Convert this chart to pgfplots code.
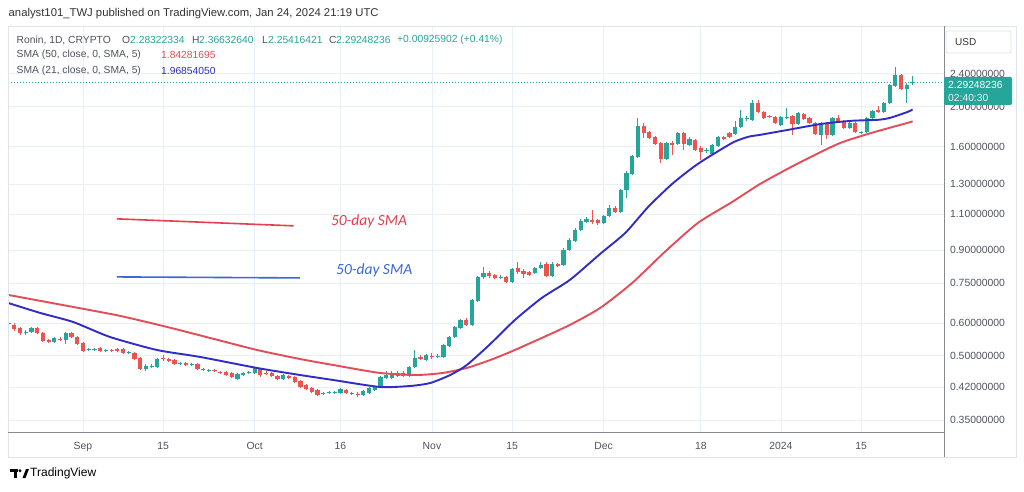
\documentclass[border=0pt]{standalone}
\usepackage{pgfplots}
\pgfplotsset{compat=1.18}
\usepackage{pgfplotstable}
\usepackage{fontspec}
\setmainfont{Liberation Sans}
\newfontfamily\annfont{Carlito}

\definecolor{cgreen}{RGB}{38,166,154}
\definecolor{cred}{RGB}{239,83,80}
\definecolor{smaA}{RGB}{226,77,87}
\definecolor{smaB}{RGB}{48,44,196}
\definecolor{gridc}{RGB}{234,238,245}
\definecolor{txt}{RGB}{80,83,94}
\definecolor{dtxt}{RGB}{51,51,51}
\definecolor{anred}{RGB}{226,64,78}
\definecolor{anblue}{RGB}{58,104,214}
\definecolor{framec}{RGB}{224,227,235}
\definecolor{axc}{RGB}{135,138,145}

\pgfplotstableread{
d o h l c
-13 0.6004 0.6072 0.5905 0.5971
-12 0.5938 0.6004 0.5744 0.5807
-11 0.5840 0.5872 0.5617 0.5680
-10 0.5680 0.5775 0.5617 0.5712
-9 0.5712 0.5872 0.5680 0.5840
-8 0.5840 0.5872 0.5649 0.5680
-7 0.5680 0.5712 0.5402 0.5433
-6 0.5463 0.5493 0.5372 0.5402
-5 0.5402 0.5555 0.5372 0.5524
-4 0.5493 0.5555 0.5433 0.5463
-3 0.5463 0.5712 0.5343 0.5680
-2 0.5680 0.5712 0.5524 0.5555
-1 0.5555 0.5586 0.5313 0.5343
0 0.5372 0.5402 0.5110 0.5138
1 0.5167 0.5225 0.5138 0.5196
2 0.5175 0.5225 0.5138 0.5190
3 0.5225 0.5254 0.5110 0.5138
4 0.5138 0.5196 0.5110 0.5167
5 0.5167 0.5196 0.5110 0.5138
6 0.5196 0.5225 0.5110 0.5138
7 0.5196 0.5225 0.5053 0.5081
8 0.5081 0.5138 0.5053 0.5110
9 0.5081 0.5110 0.4887 0.4914
10 0.4942 0.4969 0.4623 0.4649
11 0.4649 0.4780 0.4598 0.4727
12 0.4701 0.4780 0.4675 0.4727
13 0.4701 0.4942 0.4675 0.4914
14 0.4942 0.5025 0.4860 0.4914
15 0.4914 0.4942 0.4833 0.4860
16 0.4887 0.4914 0.4753 0.4780
17 0.4780 0.4833 0.4753 0.4807
18 0.4807 0.4833 0.4727 0.4753
19 0.4753 0.4807 0.4727 0.4780
20 0.4780 0.4807 0.4623 0.4649
21 0.4623 0.4675 0.4598 0.4649
22 0.4598 0.4649 0.4572 0.4623
23 0.4623 0.4649 0.4572 0.4598
24 0.4572 0.4598 0.4522 0.4547
25 0.4572 0.4598 0.4471 0.4496
26 0.4547 0.4572 0.4422 0.4447
27 0.4397 0.4547 0.4373 0.4522
28 0.4496 0.4572 0.4471 0.4547
29 0.4547 0.4598 0.4522 0.4572
30 0.4547 0.4701 0.4522 0.4675
31 0.4649 0.4675 0.4447 0.4496
32 0.4547 0.4598 0.4496 0.4522
33 0.4547 0.4572 0.4447 0.4471
34 0.4471 0.4496 0.4373 0.4397
35 0.4397 0.4522 0.4373 0.4496
36 0.4471 0.4496 0.4397 0.4422
37 0.4447 0.4471 0.4300 0.4325
38 0.4349 0.4373 0.4182 0.4206
39 0.4253 0.4277 0.4136 0.4159
40 0.4182 0.4206 0.4067 0.4090
41 0.4136 0.4159 0.4000 0.4022
42 0.4045 0.4090 0.4022 0.4067
43 0.4067 0.4113 0.4045 0.4090
44 0.4067 0.4113 0.4045 0.4090
45 0.4067 0.4182 0.4045 0.4159
46 0.4136 0.4159 0.4045 0.4067
47 0.4067 0.4090 0.4022 0.4045
48 0.4045 0.4090 0.3978 0.4022
49 0.4022 0.4136 0.4000 0.4113
50 0.4067 0.4206 0.4045 0.4182
51 0.4136 0.4229 0.4113 0.4206
52 0.4206 0.4471 0.4182 0.4447
53 0.4422 0.4598 0.4397 0.4496
54 0.4422 0.4598 0.4397 0.4522
55 0.4471 0.4598 0.4447 0.4547
56 0.4547 0.4598 0.4447 0.4471
57 0.4471 0.4727 0.4447 0.4701
58 0.4701 0.5167 0.4675 0.4942
59 0.4969 0.5025 0.4887 0.4914
60 0.4887 0.5053 0.4860 0.5025
61 0.4997 0.5081 0.4914 0.4969
62 0.4969 0.5053 0.4942 0.4997
63 0.4969 0.5343 0.4942 0.5313
64 0.5283 0.5586 0.5254 0.5555
65 0.5555 0.5905 0.5524 0.5872
66 0.5840 0.6140 0.5807 0.6106
67 0.6106 0.6174 0.5905 0.5938
68 0.5938 0.6863 0.5905 0.6825
69 0.6787 0.7800 0.6749 0.7756
70 0.7756 0.8200 0.7671 0.7931
71 0.7931 0.8020 0.7713 0.7800
72 0.7843 0.7887 0.7671 0.7713
73 0.7713 0.7843 0.7671 0.7756
74 0.7756 0.7800 0.7501 0.7543
75 0.7543 0.8154 0.7501 0.8109
76 0.8154 0.8431 0.7887 0.7975
77 0.8020 0.8109 0.7713 0.7887
78 0.7975 0.8020 0.7800 0.7843
79 0.7931 0.8200 0.7887 0.8154
80 0.8154 0.8431 0.8109 0.8291
81 0.8338 0.8431 0.7756 0.7800
82 0.7800 0.8431 0.7756 0.8338
83 0.8338 0.8384 0.8200 0.8246
84 0.8291 0.9115 0.8246 0.9014
85 0.9014 0.9637 0.8964 0.9530
86 0.9477 1.0188 0.9424 1.0075
87 1.0075 1.0711 1.0019 1.0592
88 1.0534 1.0831 1.0475 1.0711
89 1.0652 1.1261 1.0417 1.0534
90 1.0652 1.0711 1.0359 1.0475
91 1.0475 1.0952 1.0417 1.0891
92 1.0891 1.1579 1.0831 1.1387
93 1.1387 1.1514 1.1075 1.1137
94 1.1137 1.2657 1.1075 1.2587
95 1.2587 1.3991 1.2038 1.3836
96 1.3759 1.5293 1.3683 1.5208
97 1.5123 1.8789 1.5039 1.7971
98 1.7971 1.8273 1.6810 1.7285
99 1.7381 1.7478 1.6717 1.6810
100 1.6904 1.6998 1.6168 1.6258
101 1.6349 1.6440 1.4627 1.4956
102 1.4956 1.6440 1.4873 1.6349
103 1.6349 1.6532 1.5293 1.6168
104 1.6258 1.7381 1.6168 1.7285
105 1.7285 1.7381 1.5724 1.6258
106 1.6168 1.6904 1.6078 1.6717
107 1.6624 1.6717 1.5637 1.5724
108 1.5900 1.6078 1.4873 1.5550
109 1.5637 1.5900 1.5464 1.5724
110 1.5378 1.6258 1.5293 1.6168
111 1.6078 1.6998 1.5989 1.6904
112 1.6904 1.6998 1.6624 1.6717
113 1.7285 1.7381 1.6810 1.6904
114 1.7189 1.8478 1.7093 1.7871
115 1.7871 1.9644 1.7772 1.8789
116 1.8685 1.8999 1.8478 1.8789
117 1.8581 2.0768 1.8478 2.0424
118 2.0424 2.0768 1.9319 1.9427
119 1.9427 1.9535 1.8685 1.8789
120 1.8999 1.9105 1.8789 1.8894
121 1.8894 1.8999 1.8172 1.8273
122 1.8071 1.8999 1.7971 1.8894
123 1.8789 1.9864 1.8685 1.8894
124 1.8999 1.9105 1.7093 1.8172
125 1.8172 1.9427 1.8071 1.9319
126 1.9212 1.9319 1.8581 1.8685
127 1.8789 1.8894 1.8172 1.8273
128 1.8273 1.8375 1.7093 1.7189
129 1.7093 1.8375 1.6168 1.8273
130 1.8172 1.8273 1.6717 1.7093
131 1.7093 1.8894 1.6998 1.8789
132 1.8789 1.9105 1.8375 1.8478
133 1.8478 1.8581 1.7673 1.7772
134 1.7772 1.8375 1.7673 1.8273
135 1.8273 1.8375 1.7285 1.7381
136 1.7285 1.7478 1.7189 1.7381
137 1.7381 1.8894 1.7285 1.8789
138 1.8789 1.9644 1.8685 1.9535
139 1.9644 2.0086 1.9319 1.9427
140 1.9427 2.0538 1.9319 2.0424
141 2.0424 2.2702 2.0311 2.2576
142 2.2450 2.4954 2.2326 2.3868
143 2.3868 2.4001 2.1956 2.2079
144 2.2079 2.2828 2.0424 2.2576
145 2.2832 2.3663 2.2542 2.2925
}\candles

\pgfplotstableread{
d v
-13.1 0.7018
-1.75 0.6564
6.5 0.6244
14.7 0.5872
22.2 0.5524
30.4 0.5167
37.9 0.4914
43.7 0.4753
51.9 0.4547
58.4 0.4496
62.9 0.4547
67.1 0.4675
71.2 0.4887
74.7 0.5110
80.2 0.5524
85.1 0.5938
90.4 0.6527
96.0 0.7501
101.7 0.8914
107.5 1.0475
113.5 1.1773
118.4 1.3014
124.5 1.4465
132.0 1.6258
137.9 1.7285
144.2 1.8273
145 1.8428
}\smaA

\pgfplotstableread{
d v
-13.1 0.6712
-7.5 0.6349
-1.75 0.6038
4.7 0.5555
12.9 0.5167
20.5 0.4969
30.4 0.4675
37.9 0.4496
43.7 0.4373
51.9 0.4206
57.2 0.4229
60.7 0.4300
64.2 0.4496
67.1 0.4753
71.2 0.5343
75.5 0.6106
80.2 0.6901
85.1 0.7628
90.4 0.8815
94.8 0.9909
98.8 1.1451
103.0 1.3014
107.5 1.4546
113.5 1.6349
116.3 1.6904
118.4 1.7093
123.3 1.7575
129.2 1.8172
134.4 1.8478
139.0 1.8581
141.1 1.8789
144.2 1.9427
145 1.9685
}\smaB

\begin{document}
\begin{tikzpicture}
\useasboundingbox (0,0) rectangle (1024pt,491pt);
\fill[white] (0,0) rectangle (1024pt,491pt);
\begin{axis}[
  at={(8pt,59pt)}, anchor=south west,
  scale only axis, width=936pt, height=406pt,
  xmin=-13.11, xmax=150.5,
  ymode=log, ymin=0.3274, ymax=3.13,
  axis line style={draw=none},
  xtick={0,14,30,45,61,75,91,108,122,136},
  xticklabels={Sep,15,Oct,16,Nov,15,Dec,18,2024,15},
  ytick={0.35,0.42,0.5,0.6,0.75,0.9,1.1,1.3,1.6,2.0,2.4},
  yticklabels={0.35000000,0.42000000,0.50000000,0.60000000,0.75000000,0.90000000,1.10000000,1.30000000,1.60000000,2.00000000,2.40000000},
  yticklabel pos=right,
  grid=major, major grid style={draw=gridc, line width=0.9pt},
  major tick length=0pt, tick style={draw=none},
  xticklabel style={font=\fontsize{10.4}{12}\selectfont, text=txt, yshift=-7pt},
  yticklabel style={font=\fontsize{10.4}{12}\selectfont, text=txt, anchor=west, xshift=2.5pt},
]
% price line
\addplot[cgreen, line width=0.9pt, dash pattern=on 1pt off 2pt, forget plot] coordinates {(-13.11,2.2925) (150.5,2.2925)};
% wicks
\addplot[draw=none, mark=none, forget plot, error bars/.cd, y dir=plus, y explicit, error mark=none,
  error bar style={draw=cgreen, line width=1pt}]
  table[x=d, y expr={\thisrow{c}<\thisrow{o} ? nan : \thisrow{l}}, y error plus expr={\thisrow{h}-\thisrow{l}}] {\candles};
\addplot[draw=none, mark=none, forget plot, error bars/.cd, y dir=plus, y explicit, error mark=none,
  error bar style={draw=cred, line width=1pt}]
  table[x=d, y expr={\thisrow{c}<\thisrow{o} ? \thisrow{l} : nan}, y error plus expr={\thisrow{h}-\thisrow{l}}] {\candles};
% bodies
\addplot[draw=none, mark=none, forget plot, error bars/.cd, y dir=plus, y explicit, error mark=none,
  error bar style={draw=cgreen, line width=4.2pt}]
  table[x=d, y expr={\thisrow{c}<\thisrow{o} ? nan : \thisrow{o}}, y error plus expr={\thisrow{c}-\thisrow{o}}] {\candles};
\addplot[draw=none, mark=none, forget plot, error bars/.cd, y dir=plus, y explicit, error mark=none,
  error bar style={draw=cred, line width=4.2pt}]
  table[x=d, y expr={\thisrow{c}<\thisrow{o} ? \thisrow{c} : nan}, y error plus expr={\thisrow{o}-\thisrow{c}}] {\candles};
% SMAs
\addplot[smaA, line width=1.9pt, smooth, tension=0.4, mark=none] table[x=d, y=v] {\smaA};
\addplot[smaB, line width=1.9pt, smooth, tension=0.4, mark=none] table[x=d, y=v] {\smaB};
% annotations
\addplot[anred, line width=1.6pt, mark=none] coordinates {(5.93,1.0711) (36.8,1.0303)};
\addplot[anblue, line width=1.6pt, mark=none] coordinates {(5.93,0.7756) (37.9,0.7713)};
\node[text=anred, font=\annfont\itshape\fontsize{15.5}{18}\selectfont] at (axis cs:50.0,1.0534) {50-day SMA};
\node[text=anblue, font=\annfont\itshape\fontsize{15.5}{18}\selectfont] at (axis cs:50.9,0.8064) {50-day SMA};
\end{axis}
\begin{scope}[x=1pt,y=1pt]
% frame and axis lines
\draw[framec, line width=0.8pt] (8,34) rectangle (1016,465);
\draw[axc, line width=1pt] (8,59) -- (944,59);
\draw[axc, line width=1pt] (944,34) -- (944,465);
% header
\node[anchor=west, inner sep=0, text=dtxt, font=\fontsize{11.3}{13}\selectfont] at (8.5,477) {analyst101\_TWJ published on TradingView.com, Jan 24, 2024 21:19 UTC};
% legend
\begin{scope}[every node/.style={anchor=west, inner sep=0, font=\fontsize{10.3}{12}\selectfont}]
\node[text=txt] at (16.5,451) {Ronin, 1D, CRYPTO};
\node[text=txt] at (122,451) {O};
\node[text=cgreen] at (130,451) {2.28322334};
\node[text=txt] at (192,451) {H};
\node[text=cgreen] at (199,451) {2.36632640};
\node[text=txt] at (262,451) {L};
\node[text=cgreen] at (268,451) {2.25416421};
\node[text=txt] at (329,451) {C};
\node[text=cgreen] at (336,451) {2.29248236};
\node[text=cgreen] at (397,451) {+0.00925902 (+0.41\%)};
\node[text=txt] at (16.5,436) {SMA (50, close, 0, SMA, 5)};
\node[text=smaA] at (161,436) {1.84281695};
\node[text=txt] at (16.5,420) {SMA (21, close, 0, SMA, 5)};
\node[text=smaB] at (161,420) {1.96854050};
\end{scope}
% USD box
\draw[framec, line width=0.8pt, rounded corners=2pt, fill=white] (946,438) rectangle (1011,460);
\node[anchor=west, inner sep=0, text=dtxt, font=\fontsize{10}{12}\selectfont] at (955,449) {USD};
% last price label
\fill[cgreen, rounded corners=1.5pt] (944,386) rectangle (1012,414);
\node[anchor=west, inner sep=0, text=white, font=\fontsize{10.3}{12}\selectfont] at (948,406) {2.29248236};
\node[anchor=west, inner sep=0, text=white!88!cgreen, font=\fontsize{10.3}{12}\selectfont] at (948,393) {02:40:30};
% TradingView logo
\fill[black] (10,22) rectangle (18,19.5);
\fill[black] (13.5,22) rectangle (16.5,13);
\fill[black] (20,20.2) circle (1.6);
\fill[black] (22.5,13) -- (26,22) -- (29,22) -- (25.5,13) -- cycle;
\node[anchor=west, inner sep=0, text=black, font=\fontsize{12}{14}\selectfont] at (30,18) {TradingView};
\end{scope}
\end{tikzpicture}
\end{document}
